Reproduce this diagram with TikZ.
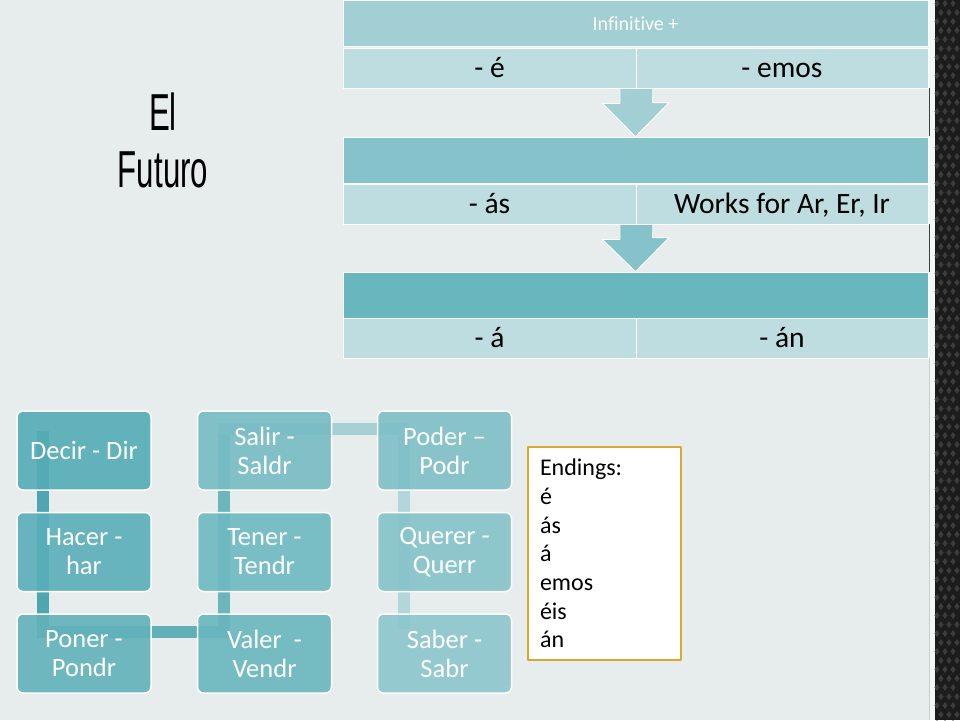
\documentclass[tikz,border=0pt]{standalone}
\usepackage{fontspec}
\setmainfont[Ligatures={NoCommon}]{Carlito}
\newfontfamily\titlefont[FakeStretch=0.6]{Liberation Sans}
\usepackage{xcolor}
\definecolor{slide}{RGB}{231,236,236}
\definecolor{hdrA}{RGB}{162,207,212}
\definecolor{hdrB}{RGB}{133,194,201}
\definecolor{hdrC}{RGB}{104,182,190}
\definecolor{cellfill}{RGB}{189,221,224}
\definecolor{boxA}{RGB}{83,172,182}
\definecolor{boxB}{RGB}{139,198,204}
\definecolor{bandA}{RGB}{78,166,176}
\definecolor{bandB}{RGB}{98,176,185}
\definecolor{bandC}{RGB}{108,181,189}
\definecolor{bandD}{RGB}{166,208,212}
\definecolor{bandE}{RGB}{178,214,217}
\definecolor{gold}{RGB}{214,170,48}
\definecolor{carbon}{RGB}{28,28,28}
\definecolor{weave}{RGB}{60,60,60}
\pgfdeclarelayer{backdrop}
\pgfdeclarelayer{bands}
\pgfsetlayers{backdrop,bands,main}

\begin{document}
\begin{tikzpicture}[x=1pt, y=-1pt, line cap=round, line join=round,
	hdr/.style={draw=white, line width=0.8pt, minimum width=585pt, minimum height=46pt, inner sep=0pt, text=white, font=\fontsize{20}{24}\selectfont},
	cell/.style={draw=white, line width=0.8pt, fill=cellfill, minimum height=40pt, inner sep=0pt, text height=22pt, text depth=4pt, font=\fontsize{29.5}{34}\selectfont},
	downarrow/.style={draw=white, line width=0.8pt},
	verb/.style={rounded corners=6pt, draw=white, line width=1.5pt, minimum width=134pt, minimum height=79pt, inner sep=2pt, text=white, align=center, fill opacity=0.9, text opacity=1, font=\fontsize{26.5}{29}\selectfont},
	band/.style={line width=12pt, line cap=rect},
	endbox/.style={draw=gold, line width=2pt, fill=white, minimum width=153pt, minimum height=213pt, text width=129pt, align=left, inner sep=0pt, font=\fontsize{24}{28.7}\selectfont},
	titletext/.style={anchor=base, inner sep=0pt, font=\titlefont\fontsize{52}{57}\selectfont}]
	\useasboundingbox (0,0) rectangle (960,720);
	\begin{pgfonlayer}{backdrop}
		\fill [slide] (0,0) rectangle (960,720);
		\fill [white!60!slide] (929,0) rectangle (935,720);
		\foreach \ya/\yb in {88/136, 224/272}
			\draw [gray!50!black, line width=0.8pt] (929,\ya) -- (929,\yb);
		\draw [gray!40, line width=0.8pt] (929,358) -- (929,720);
		\fill [carbon] (935,0) rectangle (960,720);
		\foreach \i in {0,...,80}
			\foreach \j in {0,1,2}
				\fill [weave] ({937+8*\j+4*mod(\i,2)},{9*\i}) -- ++(2.5,3.5) -- ++(-2.5,3.5) -- ++(-2.5,-3.5) -- cycle;
	\end{pgfonlayer}

	% title
	\node [titletext] (el) at (163,130) {El};
	\node [titletext] (futuro) at (163,187) {Futuro};

	% endings table
	\node [hdr, fill=hdrA] (infinitive) at (635.5,23.5) {Infinitive +};
	\node [cell, minimum width=293pt] (eA) at (489.5,68) {- é};
	\node [cell, minimum width=292pt] (emos) at (782,68) {- emos};
	\node [hdr, fill=hdrB] (hdrtwo) at (635.5,160) {};
	\node [cell, minimum width=293pt] (as) at (489.5,204) {- ás};
	\node [cell, minimum width=292pt] (works) at (782,204) {Works for Ar, Er, Ir};
	\node [hdr, fill=hdrC] (hdrthree) at (635.5,295) {};
	\node [cell, minimum width=293pt] (a) at (489.5,338.5) {- á};
	\node [cell, minimum width=292pt] (an) at (782,338.5) {- án};
	\draw [downarrow, fill=hdrA] ([xshift=-16.5pt]eA.south east) -- ++(0,15) -- ++(-17.5,0) -- (hdrtwo.north) -- ++(33.5,-34) -- ++(-16.5,0) -- ([xshift=16.5pt]eA.south east) -- cycle;
	\draw [downarrow, fill=hdrB] ([xshift=-16.5pt]as.south east) -- ++(0,15) -- ++(-17.5,0) -- (hdrthree.north) -- ++(33.5,-34) -- ++(-16.5,0) -- ([xshift=16.5pt]as.south east) -- cycle;

	% irregular stems
	\foreach \name/\px/\py/\pct/\stem in {
		decir/84/450.5/0/{Decir - Dir},
		hacer/84/552/12/{Hacer -\\har},
		poner/84/653.5/25/{Poner -\\Pondr},
		valer/264.5/653.5/38/{Valer\ \ -\\Vendr},
		tener/264.5/552/50/{Tener -\\Tendr},
		salir/264.5/450.5/62/{Salir -\\Saldr},
		poder/444.5/450.5/75/{Poder –\\Podr},
		querer/444.5/552/88/{Querer -\\Querr},
		saber/444.5/653.5/100/{Saber -\\Sabr}}
		\node [verb, fill=boxB!\pct!boxA] (\name) at (\px,\py) {\stem};
	\begin{pgfonlayer}{bands}
		\draw [band, draw=bandA] ([shift={(27,27)}]decir.north west) -- ([shift={(27,19)}]poner.north west);
		\draw [band, draw=bandB] ([shift={(27,19)}]poner.north west) -- ([shift={(27,19)}]valer.north west);
		\draw [band, draw=bandC] ([shift={(27,19)}]valer.north west) -- ([shift={(27,19)}]salir.north west);
		\draw [band, draw=bandD] ([shift={(27,19)}]salir.north west) -- ([shift={(27,19)}]poder.north west);
		\draw [band, draw=bandE] ([shift={(27,19)}]poder.north west) -- ([shift={(27,10)}]saber.north west);
	\end{pgfonlayer}

	\node [endbox] (endings) at (604.5,553.5) {Endings:\\é\\ás\\á\\emos\\éis\\án};
\end{tikzpicture}
\end{document}
